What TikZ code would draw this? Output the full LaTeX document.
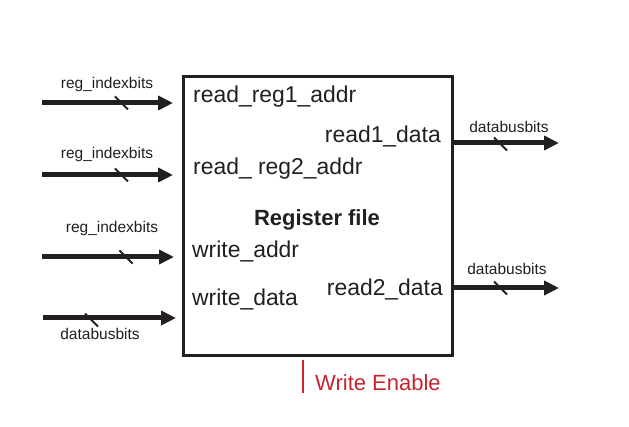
\documentclass[tikz,border=0pt]{standalone}
\usepackage{fontspec}
\setmainfont{Liberation Sans}
\usetikzlibrary{arrows.meta}
\definecolor{ink}{RGB}{35,31,32}
\definecolor{wered}{RGB}{200,36,45}
\tikzset{
  x=1pt, y=-1pt,
  bus/.style={line width=5pt, draw=ink, -{Triangle[length=15pt,width=14pt]}},
  tickline/.style={line width=2pt, draw=ink},
  lbl/.style={font=\fontsize{22.9}{23}\selectfont, text=ink, inner sep=0pt},
  small/.style={font=\fontsize{15.5}{16}\selectfont, text=ink, inner sep=0pt},
}
\begin{document}
\begin{tikzpicture}
\useasboundingbox (0,0) rectangle (629,427);
% register file box
\node[draw=ink, line width=3pt, minimum width=269pt, minimum height=279pt, inner sep=0pt, anchor=north west] (rf) at (182,75) {};
% internal labels
\node[lbl, anchor=base west] (r1a) at (193,103) {read\_reg1\_addr};
\node[lbl, anchor=base east] (r1d) at (441,143) {read1\_data};
\node[lbl, anchor=base west] (r2a) at (193,175) {read\_ reg2\_addr};
\node[lbl, anchor=base, font=\bfseries\fontsize{22}{22}\selectfont] (title) at (317,226) {Register file};
\node[lbl, anchor=base west] (wa) at (192,258) {write\_addr};
\node[lbl, anchor=base west] (wd) at (192,306) {write\_data};
\node[lbl, anchor=base east] (r2d) at (443,296) {read2\_data};
% input buses
\coordinate (s1) at (42,103);  \coordinate (e1) at (173,103);
\coordinate (s2) at (42,175);  \coordinate (e2) at (173,175);
\coordinate (s3) at (42,257);  \coordinate (e3) at (174,257);
\coordinate (s4) at (43,318);  \coordinate (e4) at (176,318);
\draw[bus] (s1) -- (e1);
\draw[bus] (s2) -- (e2);
\draw[bus] (s3) -- (e3);
\draw[bus] (s4) -- (e4);
% output buses
\coordinate (o1) at (rf.east |- 0,143); \coordinate (f1) at (559,143);
\coordinate (o2) at (rf.east |- 0,288); \coordinate (f2) at (559,288);
\draw[bus] (o1) -- (f1);
\draw[bus] (o2) -- (f2);
% bus width ticks
\coordinate (t1) at (121.5,103);
\coordinate (t2) at (121.5,175);
\coordinate (t3) at (126,257);
\coordinate (t4) at (91.5,320);
\coordinate (t5) at (500.5,144);
\coordinate (t6) at (500.5,288);
\foreach \t in {t1,t2,t3,t4,t5,t6}
  \draw[tickline] (\t) ++(-6.5,-6.5) -- ++(13,13);
% bus labels
\node[small, anchor=base] (l1) at (107,89) {reg\_indexbits};
\node[small, anchor=base] (l2) at (107,159) {reg\_indexbits};
\node[small, anchor=base] (l3) at (112,233) {reg\_indexbits};
\node[small, anchor=base] (l4) at (100,340) {databusbits};
\node[small, anchor=base] (l5) at (509,133) {databusbits};
\node[small, anchor=base] (l6) at (507,275) {databusbits};
% write enable
\coordinate (we1) at (303,360);
\coordinate (we2) at (303,393);
\draw[wered, line width=2.5pt] (we1) -- (we2);
\node[lbl, text=wered, anchor=base west, font=\fontsize{22}{22}\selectfont] (we) at (315,391) {Write Enable};
\end{tikzpicture}
\end{document}
